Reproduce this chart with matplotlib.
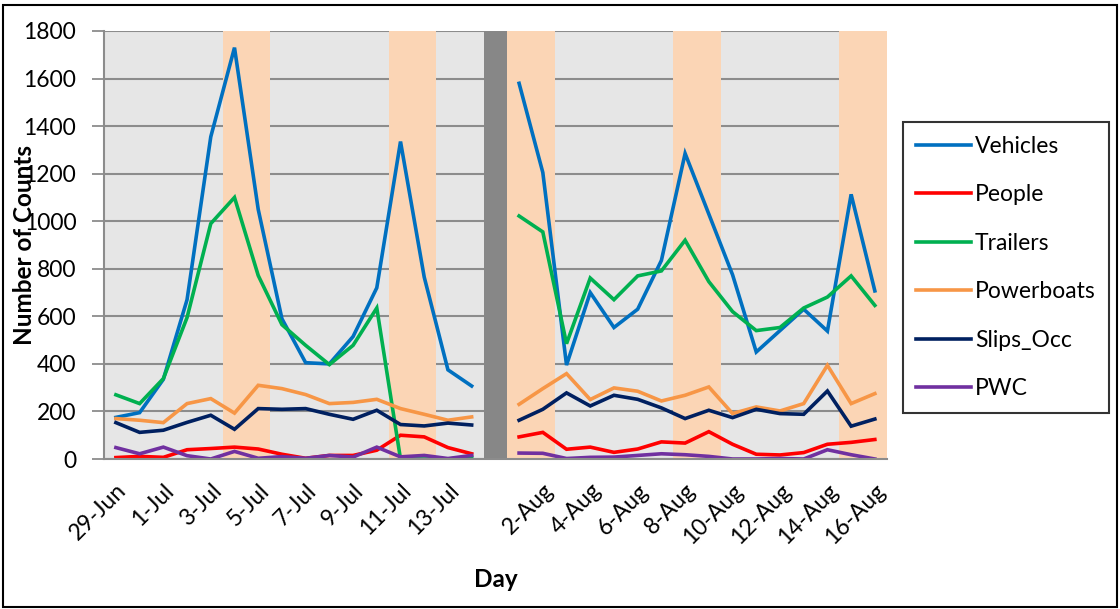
import numpy as np
import matplotlib
matplotlib.use("Agg")
import matplotlib.pyplot as plt
from matplotlib.patches import Rectangle

# categories: 29-Jun .. 14-Jul, a gap slot, then 1-Aug .. 16-Aug
days = ["29-Jun", "30-Jun", "1-Jul", "2-Jul", "3-Jul", "4-Jul", "5-Jul", "6-Jul",
        "7-Jul", "8-Jul", "9-Jul", "10-Jul", "11-Jul", "12-Jul", "13-Jul", "14-Jul",
        "",
        "1-Aug", "2-Aug", "3-Aug", "4-Aug", "5-Aug", "6-Aug", "7-Aug", "8-Aug",
        "9-Aug", "10-Aug", "11-Aug", "12-Aug", "13-Aug", "14-Aug", "15-Aug", "16-Aug"]
gap_day = ""
highlight_days = ["4-Jul", "5-Jul", "11-Jul", "12-Jul", "1-Aug", "2-Aug",
                  "8-Aug", "9-Aug", "15-Aug", "16-Aug"]

N = None
vehicles = [175, 195, 335, 670, 1355, 1730, 1050, 590, 405, 400, 515, 720, 1335, 765, 375, 307,
            N,
            1580, 1205, 395, 700, 553, 630, 835, 1285, 1030, 775, 450, 540, 630, 538, 1113, 707]
people = [6, 11, 7, 39, 44, 50, 42, 20, 3, 15, 15, 37, 100, 93, 48, 22,
          N,
          93, 112, 41, 50, 28, 42, 72, 67, 115, 62, 20, 17, 27, 62, 70, 82]
trailers = [270, 233, 338, 595, 990, 1100, 772, 565, 478, 397, 478, 635, 0, 0, 0, 8,
            N,
            1022, 955, 485, 761, 670, 770, 791, 920, 746, 620, 540, 553, 635, 681, 770, 646]
powerboats = [170, 163, 153, 233, 254, 193, 310, 296, 271, 233, 238, 251, 212, 188, 163, 177,
              N,
              230, 296, 359, 250, 299, 285, 244, 268, 303, 191, 219, 202, 233, 394, 233, 275]
slips_occ = [153, 112, 121, 154, 184, 125, 212, 209, 212, 188, 167, 205, 145, 139, 151, 143,
             N,
             163, 209, 278, 223, 268, 251, 215, 170, 205, 174, 209, 191, 188, 286, 138, 168]
pwc = [48, 22, 50, 14, 0, 32, 3, 10, 3, 15, 8, 50, 9, 15, 2, 15,
       N,
       25, 24, 2, 7, 8, 15, 22, 18, 11, 0, 0, 2, 0, 39, 18, 0]

series = [("Vehicles", vehicles, "#0070C0"),
          ("People", people, "#FF0000"),
          ("Trailers", trailers, "#00B050"),
          ("Powerboats", powerboats, "#F79646"),
          ("Slips_Occ", slips_occ, "#002060"),
          ("PWC", pwc, "#7030A0")]

plt.rcParams["font.family"] = ["Lato", "DejaVu Sans"]

fig = plt.figure(figsize=(11.2, 6.09), dpi=100)
ax = fig.add_axes([0.0929, 0.2463, 0.6988, 0.7028])
ymax = 1800
x = np.arange(len(days))

ax.set_facecolor("#E6E6E6")
ax.set_xlim(-0.5, len(days) - 0.5)
ax.set_ylim(0, ymax)
ax.set_yticks(range(0, 2000, 200))
ax.grid(axis="y", color="#8C8C8C", linewidth=1.5, zorder=1)
ax.set_axisbelow(True)

# shaded weekend/holiday columns and the dark gap column
hl = [1 if d in highlight_days else 0 for d in days]
ax.bar(x, [ymax * h for h in hl], width=1.0, color="#FBD5B5", zorder=2)
gp = [1 if d == gap_day else 0 for d in days]
ax.bar(x, [ymax * g for g in gp], width=1.0, color="#878787", zorder=2)

for name, vals, col in series:
    y = np.array([np.nan if v is None else v for v in vals], dtype=float)
    ax.plot(x, y, color=col, linewidth=2.6, label=name, zorder=3,
            solid_joinstyle="miter")

ax.set_xticks(x[::2])
ax.set_xticklabels(days[::2], rotation=45, ha="right", rotation_mode="anchor", fontsize=16.5)
ax.tick_params(axis="x", length=0, pad=15)
ax.tick_params(axis="y", length=9, width=1.3, color="#8C8C8C", labelsize=16.5, pad=11)

for s in ["top", "right"]:
    ax.spines[s].set_visible(False)
for s in ["left", "bottom"]:
    ax.spines[s].set_color("#8C8C8C")
    ax.spines[s].set_linewidth(1.5)
    ax.spines[s].set_zorder(4)

fig.text(0.022, 0.598, "Number of Counts", rotation=90, ha="center", va="center",
         fontsize=17.5, fontweight="bold")
fig.text(0.443, 0.049, "Day", ha="center", va="center", fontsize=17.5, fontweight="bold")

leg = fig.legend(loc="upper left", bbox_to_anchor=(0.806, 0.80), fontsize=16.5,
                 frameon=True, fancybox=False, edgecolor="black", handlelength=2.4,
                 handletextpad=0.15, labelspacing=1.2, borderpad=0.6, borderaxespad=0)
leg.get_frame().set_linewidth(1.5)

fig.patches.append(Rectangle((0.003, 0.004), 0.994, 0.988, transform=fig.transFigure,
                             fill=False, edgecolor="black", linewidth=1.5))

fig.savefig("out.png", dpi=100)
